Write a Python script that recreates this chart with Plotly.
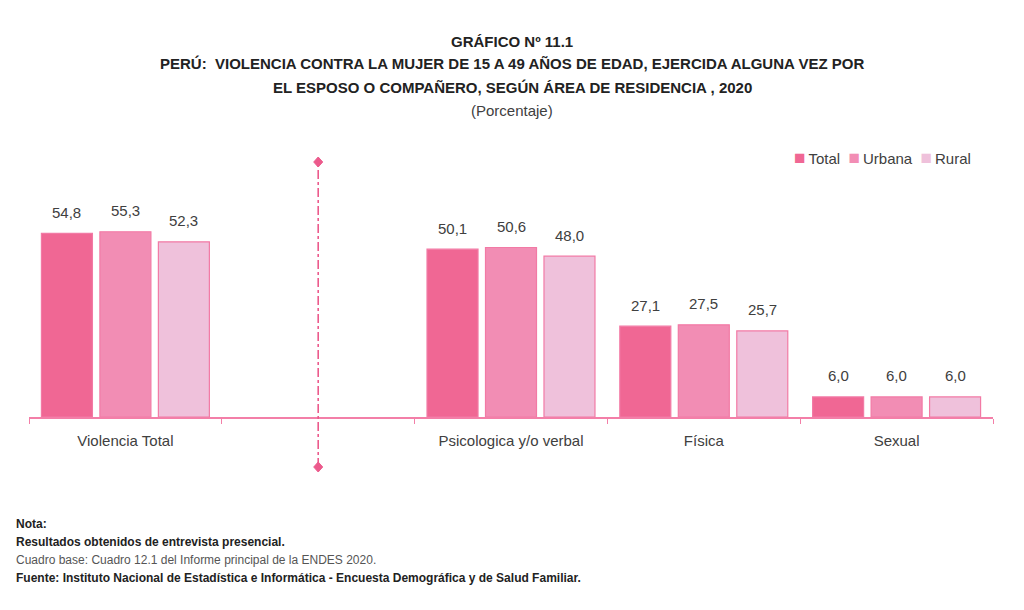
import plotly.graph_objects as go

# datos del grafico 11.1 (ENDES 2020)
categorias = ['Violencia Total', ' ', 'Psicologica y/o verbal', 'Física', 'Sexual']
total = [54.8, None, 50.1, 27.1, 6.0]
urbana = [55.3, None, 50.6, 27.5, 6.0]
rural = [52.3, None, 48.0, 25.7, 6.0]

series = [('Total', total, '#F06794'),
          ('Urbana', urbana, '#F28DB4'),
          ('Rural', rural, '#EFC1DB')]

narrow = 'Liberation Sans Narrow, Arial Narrow, Liberation Sans, Arial, sans-serif'
rosa = '#F37FA8'
rosa_fuerte = '#EC5A8C'
y_max = 79.7

# la pagina tiene 8px de margen: coordenadas del original corridas 8px
OFF = 8
IZQ, BASE, ALTO, ANCHO = 29 - OFF, 417 - OFF, 267, 964


def py(ypix):
    return (417 - ypix) / ALTO


def px(xpix):
    return (xpix - 29) / ANCHO


bargap = 0.09
bargroupgap = 0.128
slot = ANCHO / len(categorias) * (1 - bargap) / len(series)

fig = go.Figure()

for i, (nombre, valores, color) in enumerate(series):
    fig.add_trace(go.Bar(
        x=categorias,
        y=valores,
        name=nombre,
        marker=dict(color=color, line=dict(color='#F27AA5', width=1.2)),
        showlegend=False,
    ))
    for cat, v in zip(categorias, valores):
        if v is None:
            continue
        fig.add_annotation(
            x=cat, y=v, xref='x', yref='y',
            text=('%.1f' % v).replace('.', ','),
            xshift=(i - 1) * slot, yshift=21,
            yanchor='middle', showarrow=False,
            font=dict(family=narrow, size=15, color='#404040'),
        )

# linea divisoria entre Violencia Total y los tipos
fig.add_shape(type='line', xref='x', yref='paper', x0=1, x1=1,
              y0=py(467), y1=py(162), layer='above', opacity=1,
              line=dict(color=rosa_fuerte, width=1.6, dash='dashdot'))
diamante = 'M0,5 L4.5,0 L0,-5 L-4.5,0 Z'
for ypix in (162, 467):
    fig.add_shape(type='path', xref='x', yref='paper',
                  xsizemode='pixel', ysizemode='pixel', opacity=1,
                  xanchor=1, yanchor=py(ypix), path=diamante, layer='above',
                  fillcolor=rosa_fuerte, line=dict(color=rosa_fuerte, width=1))

# leyenda dibujada con texto
leyenda = '&nbsp;&nbsp;'.join(
    '<span style="color:%s;font-size:19px">■</span>&#8201;%s' % (c, n) for n, _, c in series)
fig.add_annotation(
    text=leyenda, x=px(973), xref='paper', xanchor='right',
    y=py(157), yref='paper', yanchor='middle', showarrow=False,
    font=dict(family=narrow, size=15, color='#404040'),
)

fig.update_xaxes(
    categoryorder='array',
    categoryarray=categorias,
    showline=True,
    linecolor=rosa,
    linewidth=1.5,
    ticks='outside',
    tickson='boundaries',
    ticklen=5,
    tickcolor=rosa,
    ticklabelstandoff=9,
    tickfont=dict(family=narrow, size=15, color='#404040'),
    showgrid=False,
    zeroline=False,
)
fig.update_yaxes(visible=False, range=[0, y_max])

titulo = [
    ('GRÁFICO Nº 11.1', 42, True),
    ('PERÚ:  VIOLENCIA CONTRA LA MUJER DE 15 A 49 AÑOS DE EDAD, EJERCIDA ALGUNA VEZ POR', 63, True),
    ('EL ESPOSO O COMPAÑERO, SEGÚN ÁREA DE RESIDENCIA , 2020', 87, True),
    ('(Porcentaje)', 110, False),
]
for texto, ypix, negrita in titulo:
    fig.add_annotation(
        text='<b>%s</b>' % texto if negrita else texto,
        x=px(512), xref='paper', xanchor='center',
        y=py(ypix), yref='paper', yanchor='middle',
        showarrow=False,
        font=dict(family=narrow, size=15, color='#222222' if negrita else '#404040'),
    )

notas = [
    ('<b>Nota:</b>', 524, '#222222'),
    ('<b>Resultados obtenidos de entrevista presencial.</b>', 542, '#222222'),
    ('Cuadro base: Cuadro 12.1 del Informe principal de la ENDES 2020.', 560, '#555555'),
    ('<b>Fuente: Instituto Nacional de Estadística e Informática - Encuesta Demográfica y de Salud Familiar.</b>', 578, '#222222'),
]
for texto, ypix, color in notas:
    fig.add_annotation(
        text=texto,
        x=px(14), xref='paper', xanchor='left',
        y=py(ypix), yref='paper', yanchor='middle',
        showarrow=False,
        font=dict(family=narrow, size=12, color=color),
    )

fig.update_layout(
    width=1024,
    height=610,
    margin=dict(l=IZQ, r=1024 - IZQ - ANCHO, t=BASE - ALTO, b=610 - BASE),
    barmode='group',
    bargap=bargap,
    bargroupgap=bargroupgap,
    template='none',
    plot_bgcolor='white',
    paper_bgcolor='white',
    showlegend=False,
)

fig.write_html('out.html')
